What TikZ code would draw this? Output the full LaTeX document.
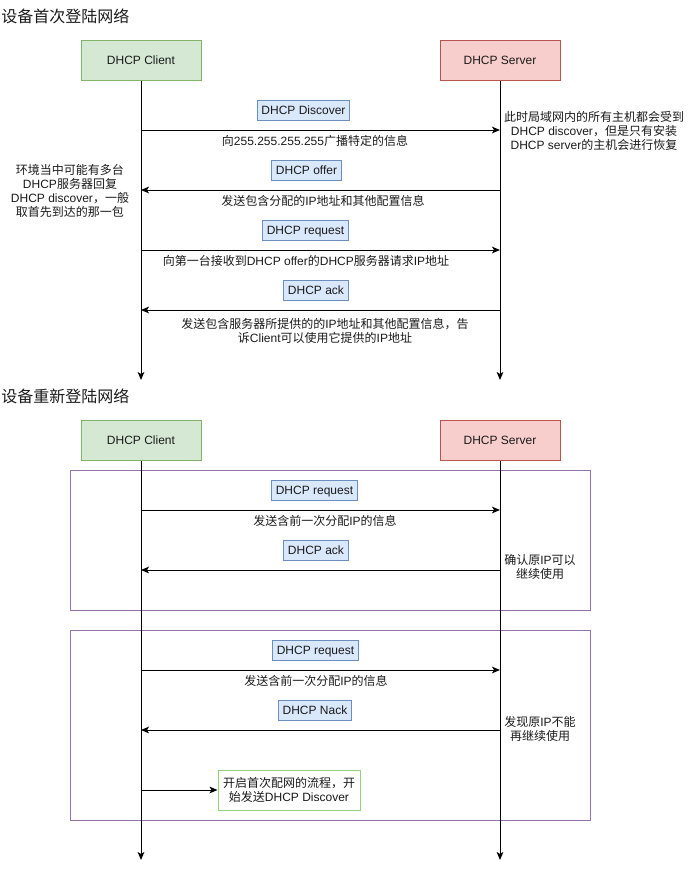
\documentclass[tikz,border=0pt]{standalone}
\usepackage{fontspec}
\setmainfont{Liberation Sans}
\newfontfamily\cjkfam{Noto Sans CJK SC}
\usetikzlibrary{arrows.meta}
\XeTeXinterchartokenstate=1
\chardef\cjkcls=3
\newcount\cjkcnt
\cjkcnt="4E00 \loop \XeTeXcharclass\cjkcnt=\cjkcls \advance\cjkcnt by 1 \ifnum\cjkcnt<"A000 \repeat
\cjkcnt="3000 \loop \XeTeXcharclass\cjkcnt=\cjkcls \advance\cjkcnt by 1 \ifnum\cjkcnt<"3040 \repeat
\cjkcnt="FF00 \loop \XeTeXcharclass\cjkcnt=\cjkcls \advance\cjkcnt by 1 \ifnum\cjkcnt<"FFF0 \repeat
\XeTeXinterchartoks 0 \cjkcls = {\cjkfam}
\XeTeXinterchartoks 4095 \cjkcls = {\cjkfam}
\XeTeXinterchartoks 255 \cjkcls = {\cjkfam}
\XeTeXinterchartoks \cjkcls 0 = {\rmfamily}
\XeTeXinterchartoks \cjkcls 4095 = {\rmfamily}
\XeTeXinterchartoks \cjkcls 255 = {\rmfamily}
\definecolor{cgreen}{HTML}{D5E8D4}
\definecolor{cgreenb}{HTML}{82B366}
\definecolor{cred}{HTML}{F8CECC}
\definecolor{credb}{HTML}{B85450}
\definecolor{cblue}{HTML}{DAE8FC}
\definecolor{cblueb}{HTML}{6C8EBF}
\definecolor{cpurple}{HTML}{9673A6}
\definecolor{clgreen}{HTML}{97D077}
\definecolor{ctext}{HTML}{1A1A1A}
\tikzset{
  base/.style={font=\fontsize{9}{10.5}\selectfont, text=ctext, align=center},
  actor/.style={base, draw, line width=0.75pt, minimum width=90pt, minimum height=30pt, inner sep=0pt, text height=6.5pt, text depth=0pt},
  clientbox/.style={actor, fill=cgreen, draw=cgreenb},
  serverbox/.style={actor, fill=cred, draw=credb},
  tag/.style={base, draw=cblueb, fill=cblue, line width=0.75pt, minimum height=15pt, inner xsep=3pt, inner ysep=0pt, text height=6.5pt, text depth=0pt},
  note/.style={base, inner sep=0pt},
  title/.style={font=\fontsize{12}{14}\selectfont, text=ctext, anchor=west, inner sep=0pt},
  msg/.style={line width=0.75pt, -{Stealth[length=6pt,width=5pt,inset=1.5pt]}},
  frame/.style={draw=cpurple, line width=0.75pt, inner sep=0pt},
  resultbox/.style={base, draw=clgreen, fill=white, line width=0.75pt, minimum width=106.5pt, minimum height=30pt, inner sep=0pt}
}
\begin{document}
\begin{tikzpicture}[x=0.75pt,y=-0.75pt]
\useasboundingbox (0,0) rectangle (691,869);
% ---------- part 1 ----------
\node[title] (t1) at (1,16) {设备首次登陆网络};
\node[clientbox] (c1) at (141,60) {DHCP Client};
\node[serverbox] (s1) at (500,60) {DHCP Server};
\coordinate (c1end) at (141,380);
\coordinate (s1end) at (500,380);
\draw[msg] (c1.south) -- (c1end);
\draw[msg] (s1.south) -- (s1end);

\coordinate (a1) at (141,130); \coordinate (b1) at (500,130);
\coordinate (a2) at (141,190); \coordinate (b2) at (500,190);
\coordinate (a3) at (141,250); \coordinate (b3) at (500,250);
\coordinate (a4) at (141,310); \coordinate (b4) at (500,310);

\node[tag] (m1) at (303.5,110) {DHCP Discover};
\draw[msg] (a1) -- (b1);
\node[note] (l1) at (315,141) {向255.255.255.255广播特定的信息};
\node[note] (r1) at (594,131) {此时局域网内的所有主机都会受到\\DHCP discover，但是只有安装\\DHCP server的主机会进行恢复};

\node[tag] (m2) at (306.5,170) {DHCP offer};
\draw[msg] (b2) -- (a2);
\node[note] (l2) at (323,201) {发送包含分配的IP地址和其他配置信息};
\node[note] (r2) at (70,191) {环境当中可能有多台\\DHCP服务器回复\\DHCP discover，一般\\取首先到达的那一包};

\node[tag] (m3) at (305.5,230) {DHCP request};
\draw[msg] (a3) -- (b3);
\node[note] (l3) at (306,261) {向第一台接收到DHCP offer的DHCP服务器请求IP地址};

\node[tag] (m4) at (316,290) {DHCP ack};
\draw[msg] (b4) -- (a4);
\node[note] (l4) at (325,331) {发送包含服务器所提供的的IP地址和其他配置信息，告\\诉Client可以使用它提供的IP地址};

% ---------- part 2 ----------
\node[title] (t2) at (1,396) {设备重新登陆网络};
\node[frame, minimum width=390pt, minimum height=105pt] (f1) at (330,540) {};
\node[frame, minimum width=390pt, minimum height=142.5pt] (f2) at (330,725) {};
\node[clientbox] (c2) at (141,440) {DHCP Client};
\node[serverbox] (s2) at (500,440) {DHCP Server};
\coordinate (c2end) at (141,860);
\coordinate (s2end) at (500,860);
\draw[msg] (c2.south) -- (c2end);
\draw[msg] (s2.south) -- (s2end);

\coordinate (a5) at (141,510); \coordinate (b5) at (500,510);
\coordinate (a6) at (141,570); \coordinate (b6) at (500,570);
\coordinate (a7) at (141,670); \coordinate (b7) at (500,670);
\coordinate (a8) at (141,730); \coordinate (b8) at (500,730);
\coordinate (a9) at (141,790);

\node[tag] (m5) at (314.5,490) {DHCP request};
\draw[msg] (a5) -- (b5);
\node[note] (l5) at (325,521) {发送含前一次分配IP的信息};

\node[tag] (m6) at (316,550) {DHCP ack};
\draw[msg] (b6) -- (a6);
\node[note] (r6) at (540,567) {确认原IP可以\\继续使用};

\node[tag] (m7) at (315.5,650) {DHCP request};
\draw[msg] (a7) -- (b7);
\node[note] (l7) at (316,681) {发送含前一次分配IP的信息};

\node[tag] (m8) at (315,710) {DHCP Nack};
\draw[msg] (b8) -- (a8);
\node[note] (r8) at (540,729) {发现原IP不能\\再继续使用};

\node[resultbox] (g1) at (289,790) {开启首次配网的流程，开\\始发送DHCP Discover};
\draw[msg] (a9) -- (g1.west);
\end{tikzpicture}
\end{document}
